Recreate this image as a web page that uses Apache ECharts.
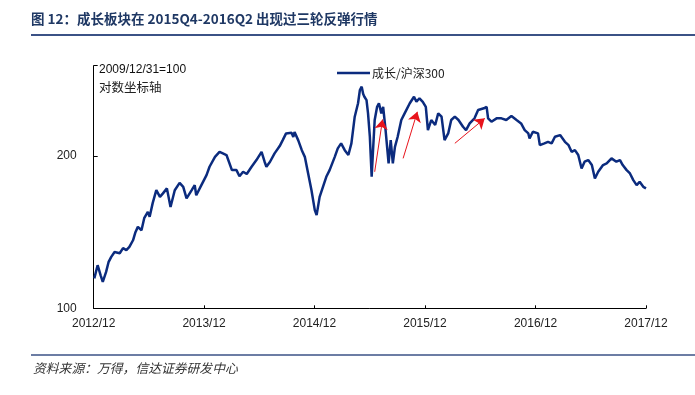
<!DOCTYPE html>
<html><head><meta charset="utf-8">
<script src="https://cdn.jsdelivr.net/npm/echarts@6/dist/echarts.min.js"></script>
<style>html,body{margin:0;padding:0;background:#fff}#c{width:695px;height:395px}</style>
</head><body><div id="c"></div>
<script>
const dates = ['2012-12-03','2012-12-14','2012-12-24','2012-12-31','2013-01-11','2013-01-19','2013-01-28','2013-02-08','2013-02-25','2013-03-08','2013-03-19','2013-03-29','2013-04-10','2013-04-18','2013-04-26','2013-05-08','2013-05-17','2013-05-29','2013-06-04','2013-06-14','2013-06-26','2013-07-08','2013-07-18','2013-07-31','2013-08-12','2013-08-26','2013-09-11','2013-09-23','2013-10-04','2013-10-21','2013-10-31','2013-11-05','2013-11-22','2013-12-09','2013-12-19','2014-01-06','2014-01-21','2014-02-01','2014-02-13','2014-03-03','2014-03-18','2014-03-28','2014-04-09','2014-04-21','2014-05-07','2014-05-23','2014-06-09','2014-06-19','2014-06-25','2014-07-07','2014-07-22','2014-08-08','2014-08-18','2014-08-29','2014-09-16','2014-09-22','2014-09-26','2014-10-08','2014-10-20','2014-10-30','2014-11-10','2014-11-21','2014-12-02','2014-12-08','2014-12-18','2014-12-29','2015-01-09','2015-01-20','2015-02-06','2015-02-16','2015-02-27','2015-03-11','2015-03-23','2015-04-02','2015-04-13','2015-04-24','2015-04-30','2015-05-06','2015-05-11','2015-05-15','2015-05-22','2015-05-27','2015-06-02','2015-06-08','2015-06-12','2015-06-18','2015-06-26','2015-07-02','2015-07-10','2015-07-16','2015-07-24','2015-08-03','2015-08-10','2015-08-17','2015-08-24','2015-09-02','2015-09-14','2015-09-25','2015-10-12','2015-10-26','2015-11-03','2015-11-13','2015-11-24','2015-12-04','2015-12-11','2015-12-22','2016-01-04','2016-01-14','2016-01-25','2016-02-04','2016-02-16','2016-02-26','2016-03-09','2016-03-21','2016-04-05','2016-04-15','2016-04-27','2016-05-13','2016-05-25','2016-06-13','2016-06-22','2016-06-27','2016-07-08','2016-07-25','2016-08-10','2016-08-26','2016-09-12','2016-09-29','2016-10-14','2016-10-26','2016-11-07','2016-11-11','2016-11-22','2016-12-09','2016-12-15','2016-12-30','2017-01-11','2017-01-23','2017-02-03','2017-02-20','2017-03-08','2017-03-20','2017-03-30','2017-04-10','2017-04-21','2017-05-02','2017-05-12','2017-05-24','2017-06-05','2017-06-15','2017-06-26','2017-07-12','2017-07-24','2017-08-09','2017-08-25','2017-09-06','2017-09-15','2017-09-28','2017-10-09','2017-10-20','2017-10-31','2017-11-10','2017-11-22','2017-12-01'];
const ratio = [119.7,128.3,121.7,117.3,123.9,130.3,133.8,137.0,136.2,139.5,138.2,140.3,144.7,150.0,153.5,151.3,159.2,163.4,160.1,169.1,177.6,173.2,175.5,178.8,166.6,177.6,182.4,179.8,172.2,177.6,180.9,174.3,180.9,187.5,193.0,199.5,202.8,201.8,200.7,190.8,190.8,186.8,189.7,188.2,193.0,197.4,202.8,196.3,193.0,196.3,201.8,206.6,210.5,214.9,215.3,212.5,215.8,210.5,203.9,199.5,188.6,177.6,164.5,161.2,173.2,179.8,186.4,190.8,199.5,205.1,208.4,203.9,200.7,208.4,225.9,234.7,243.4,245.6,240.8,239.0,236.8,228.1,212.7,186.4,201.8,223.7,232.4,234.7,228.1,232.4,217.1,195.2,210.5,195.2,206.1,212.7,223.7,228.1,234.7,239.0,235.7,238.0,235.7,232.4,217.1,223.7,220.4,228.1,225.9,210.5,214.9,223.7,225.9,223.7,219.3,217.1,221.5,224.8,230.3,231.4,232.4,224.8,222.6,224.8,224.8,223.7,226.3,223.7,221.5,217.1,214.9,211.6,216.0,214.9,207.2,208.4,209.4,208.4,212.7,213.8,209.4,207.2,202.8,203.9,200.7,191.9,196.3,197.4,194.1,185.3,189.7,194.1,195.2,198.5,196.3,197.4,194.1,190.8,188.6,184.2,180.9,183.1,179.8,178.8];
const xTickDates = ['2012-12-01','2013-12-01','2014-12-01','2015-12-01','2016-12-01','2017-12-01'];
const yTickValues = [100, 200];
const yMax = 259.4;
// red arrows: [tailDate, tailValue, headDate, headValue]
const arrows = [
  ['2015-06-18', 189.7, '2015-07-14', 224.1],
  ['2015-09-20', 198.5, '2015-11-06', 229.1],
  ['2016-03-09', 208.4, '2016-06-16', 224.8]
];
const seriesName = '成长/沪深300';
const titleText = '图 12：成长板块在 2015Q4-2016Q2 出现过三轮反弹行情';
const sourceText = '资料来源：万得，信达证券研发中心';

function ts(s){ const p = s.split('-').map(Number); return Date.UTC(p[0], p[1]-1, p[2]); }
const xTicks = xTickDates.map(ts);

const chart = echarts.init(document.getElementById('c'), null, {renderer:'canvas'});
chart.setOption({
  animation: false,
  backgroundColor: '#fff',
  title: {
    text: titleText, left: 26, top: 7,
    textStyle: {fontSize: 13.5, fontWeight: 'bold', color: '#1f3864', fontFamily: '"Noto Sans CJK SC", sans-serif'}
  },
  legend: {
    data: [seriesName], left: 332, top: 62, icon: 'rect', itemWidth: 33, itemHeight: 2.5, itemGap: 5,
    textStyle: {fontSize: 12, color: '#222', fontFamily: '"Noto Sans CJK SC", sans-serif', padding: [0,0,0,-3]}
  },
  grid: {left: 93.7, right: 49, top: 65.7, bottom: 86.7, containLabel: false},
  xAxis: {
    type: 'value', min: xTicks[0], max: xTicks[xTicks.length-1],
    axisLine: {lineStyle: {color: '#000', width: 1}},
    axisTick: {inside: true, length: 3, customValues: xTicks, lineStyle: {color: '#000'}},
    axisLabel: {customValues: xTicks, margin: 9, fontSize: 12, color: '#222', fontFamily: '"Liberation Sans", Arial, sans-serif',
      formatter: function(v){ const d = new Date(v); return d.getUTCFullYear() + '/' + String(d.getUTCMonth()+1).padStart(2,'0'); }},
    splitLine: {show: false}
  },
  yAxis: {
    type: 'value', min: 100, max: yMax,
    axisLine: {show: true, lineStyle: {color: '#000', width: 1}},
    axisTick: {show: true, inside: true, length: 4, customValues: yTickValues.concat([yMax]), lineStyle: {color: '#000'}},
    axisLabel: {customValues: yTickValues, margin: 17, fontSize: 12, color: '#222', fontFamily: '"Liberation Sans", Arial, sans-serif'},
    splitLine: {show: false}
  },
  graphic: [
    {type: 'line', shape: {x1: 31, y1: 35, x2: 695, y2: 35}, style: {stroke: '#3b5286', lineWidth: 2}},
    {type: 'line', shape: {x1: 31, y1: 355, x2: 695, y2: 355}, style: {stroke: '#3b5286', lineWidth: 1.5}},
    {type: 'text', left: 33, top: 362, style: {text: sourceText, fill: '#333', font: 'italic 12.8px "Noto Sans CJK SC", sans-serif'}},
    {type: 'text', left: 99, top: 64, style: {text: '2009/12/31=100', fill: '#111', font: '12px "Liberation Sans", Arial, sans-serif'}},
    {type: 'text', left: 99, top: 81, style: {text: '对数坐标轴', fill: '#222', font: '12.5px "Noto Sans CJK SC", sans-serif'}}
  ],
  series: [{
    name: seriesName, type: 'line', showSymbol: false, symbol: 'none',
    data: dates.map((d, i) => [ts(d), ratio[i]]),
    lineStyle: {color: '#0b2b7e', width: 2.5}, itemStyle: {color: '#0b2b7e'},
    markLine: {
      silent: true, symbol: ['none', 'arrow'], symbolSize: 10,
      label: {show: false},
      itemStyle: {color: '#e8141c'},
      lineStyle: {color: '#e8141c', width: 1, type: 'solid'},
      emphasis: {disabled: true},
      data: arrows.map(a => [{coord: [ts(a[0]), a[1]]}, {coord: [ts(a[2]), a[3]]}])
    }
  }]
});
</script></body></html>
